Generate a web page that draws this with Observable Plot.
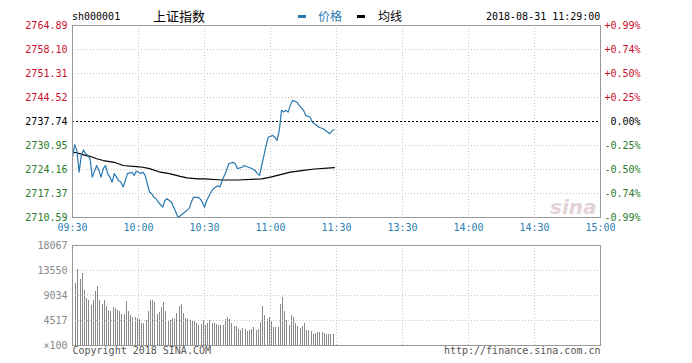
<!DOCTYPE html>
<html><head><meta charset="utf-8">
<script src="https://cdn.jsdelivr.net/npm/d3@7"></script>
<script src="https://cdn.jsdelivr.net/npm/@observablehq/plot@0.6"></script>
<style>
body{margin:0;background:#fff;}
#wrap{position:relative;width:692px;height:363px;overflow:hidden;font-family:"DejaVu Sans Mono",monospace;}
#wrap svg{position:absolute;left:0;}
.hd{position:absolute;white-space:nowrap;line-height:14px;}
</style></head><body><div id="wrap"></div>
<script>
// ---- data ----
const symbol = "sh000001";
const indexName = "上证指数";
const legendPrice = "价格";
const legendAvg = "均线";
const stamp = "2018-08-31 11:29:00";
const prevClose = 2737.74;
const priceTicks = [2764.89, 2758.10, 2751.31, 2744.52, 2737.74, 2730.95, 2724.16, 2717.37, 2710.59];
const pctLabels = ["+0.99%", "+0.74%", "+0.50%", "+0.25%", "0.00%", "-0.25%", "-0.50%", "-0.74%", "-0.99%"];
const timeTickMinutes = [0, 30, 60, 90, 120, 150, 180, 210, 240];
const timeLabels = ["09:30", "10:00", "10:30", "11:00", "11:30", "13:30", "14:00", "14:30", "15:00"];
const priceMinutes = [0,1,2,3,4,5,6,7,8,9,11,12,13,14,15,16,17,18,19,20,21,22,23,24,25,27,28,29,30,31,32,33,35,36,37,38,39,41,42,43,44,45,46,47,48,50,51,53,54,55,57,58,59,60,61,63,64,66,67,68,70,71,73,74,75,77,78,80,81,83,84,85,86,87,88,89,91,92,93,94,95,96,97,98,99,100,102,103,105,106,108,109,111,112,114,115,117,118,119];
const priceValues = [2727.6,2731.2,2729.5,2723.4,2728.1,2729.7,2728.6,2728.1,2727.2,2722.0,2725.3,2723.9,2722.0,2724.4,2725.3,2723.0,2722.0,2720.6,2723.0,2722.0,2721.0,2720.6,2719.2,2721.0,2723.0,2723.4,2722.5,2723.7,2723.4,2723.0,2723.4,2722.5,2717.8,2717.3,2716.3,2715.9,2714.9,2713.5,2715.4,2715.9,2715.4,2714.9,2713.5,2712.1,2710.6,2711.6,2712.1,2713.1,2714.9,2716.3,2716.3,2715.9,2714.9,2713.5,2715.4,2717.8,2718.7,2719.6,2719.2,2721.0,2723.9,2725.8,2726.2,2725.8,2724.4,2724.8,2725.3,2724.8,2724.6,2723.9,2723.0,2722.5,2725.3,2728.1,2731.0,2733.3,2733.8,2733.3,2732.4,2735.2,2740.9,2740.4,2740.9,2740.4,2742.3,2743.7,2743.2,2742.3,2740.9,2739.4,2739.0,2737.5,2736.6,2736.1,2735.7,2735.2,2734.3,2735.2,2735.4];
const avgMinutes = [0,2,5,8,11,14,19,23,29,32,35,40,44,49,52,57,60,68,75,86,90,95,99,105,110,119];
const avgValues = [2729.0,2728.9,2728.3,2727.9,2727.2,2726.7,2726.2,2725.3,2725.0,2724.8,2724.4,2723.4,2723.0,2722.2,2721.8,2721.5,2721.5,2721.2,2721.2,2721.5,2722.0,2722.8,2723.4,2723.9,2724.3,2724.7];
const volumeValues = [11200,13730,11920,13000,9880,8490,8070,7290,8070,9700,10600,8190,7460,8070,6990,6380,6080,6870,6630,6380,6080,5660,5660,7890,6080,5480,5060,5060,4880,4700,3970,3970,4460,6080,8070,8070,7710,5660,6020,6870,7710,6080,4280,4460,4880,4700,5780,6990,7460,5780,4880,4700,4580,4280,4280,3970,3670,3850,4460,
 3670,3975,4460,3975,3975,3850,3670,3670,3670,4700,5060,4700,3975,3370,3490,2890,2770,3070,2890,2470,2650,2950,3250,2650,2890,4100,7100,5480,4700,5060,4280,3250,3250,3250,7470,8670,6080,4460,3670,5480,5060,3975,3370,3070,3370,3975,2650,2650,2470,2050,2170,2290,2290,2290,2170,2050,2050,2050,2050];
const volTicks = [0, 4517, 9034, 13550, 18067];
const volTickLabels = ["×100", "4517", "9034", "13550", "18067"];
const copyright = "Copyright 2018 SINA.COM";
const siteUrl = "http://finance.sina.com.cn";

// ---- styles ----
const RED = "#c8102e", GREEN = "#2a7a2a", BLUE = "#2a78b0", TIMEBLUE = "#2a80b0", GRID = "#c4c4c4", FRAME = "#999";
const levelColor = v => Math.abs(v - prevClose) < 1e-6 ? "#000" : (v > prevClose ? RED : GREEN);

const price = priceMinutes.map((m, i) => ({m, p: priceValues[i]}));
const avg = avgMinutes.map((m, i) => ({m, p: avgValues[i]}));
const vol = volumeValues.map((v, i) => ({m: i + 1, v}));
const innerTimes = timeTickMinutes.slice(1, -1);

const wrap = document.getElementById("wrap");

const main = Plot.plot({
  width: 692, height: 240,
  marginLeft: 72, marginRight: 92, marginTop: 25, marginBottom: 23,
  x: {domain: [0, 240], axis: null},
  y: {domain: [2710.59, 2764.89], axis: null},
  color: {type: "identity"},
  style: {fontFamily: "DejaVu Sans Mono, monospace", fontSize: "10px", background: "transparent", overflow: "visible"},
  marks: [
    Plot.ruleY(priceTicks.slice(1, -1).filter(v => v !== prevClose), {stroke: GRID, strokeDasharray: "1,2"}),
    Plot.ruleX(innerTimes, {stroke: GRID, strokeDasharray: "1,2"}),
    Plot.ruleY([prevClose], {stroke: "#000", strokeDasharray: "2,2"}),
    Plot.text(["sina"], {frameAnchor: "bottom-right", dx: -4, dy: -4, text: d => d, fill: "#e3d3d6", fontSize: 20, fontWeight: "bold", fontStyle: "italic", fontFamily: "DejaVu Sans", textAnchor: "end", lineAnchor: "bottom"}),
    Plot.line(avg, {x: "m", y: "p", stroke: "#000", strokeWidth: 1.2}),
    Plot.line(price, {x: "m", y: "p", stroke: BLUE, strokeWidth: 1.2}),
    Plot.frame({stroke: FRAME}),
    Plot.text(priceTicks, {frameAnchor: "left", y: d => d, text: d => d.toFixed(2), textAnchor: "end", dx: -5, fill: d => levelColor(d)}),
    Plot.text(priceTicks, {frameAnchor: "right", y: d => d, text: (d, i) => pctLabels[i], textAnchor: "end", dx: 40, fill: d => levelColor(d)}),
    Plot.text(timeTickMinutes, {x: d => d, frameAnchor: "bottom", dy: 13, text: (d, i) => timeLabels[i], fill: TIMEBLUE})
  ]
});
main.style.top = "0px";
wrap.appendChild(main);

const volPlot = Plot.plot({
  width: 692, height: 128,
  marginLeft: 72, marginRight: 92, marginTop: 10, marginBottom: 18,
  x: {domain: [0, 240], axis: null},
  y: {domain: [0, 18067], axis: null},
  style: {fontFamily: "DejaVu Sans Mono, monospace", fontSize: "10px", background: "transparent", overflow: "visible"},
  marks: [
    Plot.ruleX(vol, {x: "m", y1: 0, y2: "v", stroke: "#8a8a8a", strokeWidth: 1, dx: 1, shapeRendering: "crispEdges"}),
    Plot.ruleY(volTicks.slice(1, -1), {stroke: GRID, strokeDasharray: "1,2"}),
    Plot.ruleX(innerTimes, {stroke: GRID, strokeDasharray: "1,2"}),
    Plot.frame({stroke: FRAME}),
    Plot.text(volTicks, {frameAnchor: "left", y: d => d, text: (d, i) => volTickLabels[i], textAnchor: "end", dx: -5, fill: "#888"}),
    Plot.text([copyright], {frameAnchor: "bottom-left", text: d => d, textAnchor: "start", dy: 8, fill: "#555"}),
    Plot.text([siteUrl], {frameAnchor: "bottom-right", text: d => d, textAnchor: "end", dy: 8, fill: "#555"})
  ]
});
volPlot.style.top = "235px";
wrap.appendChild(volPlot);

// header
function hd(text, left, top, css) {
  const d = document.createElement("div");
  d.className = "hd";
  d.textContent = text;
  d.style.left = left + "px";
  d.style.top = top + "px";
  Object.assign(d.style, css || {});
  wrap.appendChild(d);
}
function dash(left, color) {
  const d = document.createElement("div");
  d.style.cssText = `position:absolute;left:${left}px;top:15px;width:8px;height:3px;background:${color};`;
  wrap.appendChild(d);
}
hd(symbol, 72, 10, {fontSize: "10px", color: "#000"});
hd(indexName, 153, 9, {fontSize: "13px", fontFamily: "'Noto Sans CJK SC', sans-serif", color: "#000"});
dash(298, BLUE);
hd(legendPrice, 318, 9, {fontSize: "12px", fontFamily: "'Noto Sans CJK SC', sans-serif", color: BLUE});
dash(357, "#000");
hd(legendAvg, 378, 9, {fontSize: "12px", fontFamily: "'Noto Sans CJK SC', sans-serif", color: "#000"});
hd(stamp, 486, 10, {fontSize: "10px", color: "#000"});
</script>
</body></html>
